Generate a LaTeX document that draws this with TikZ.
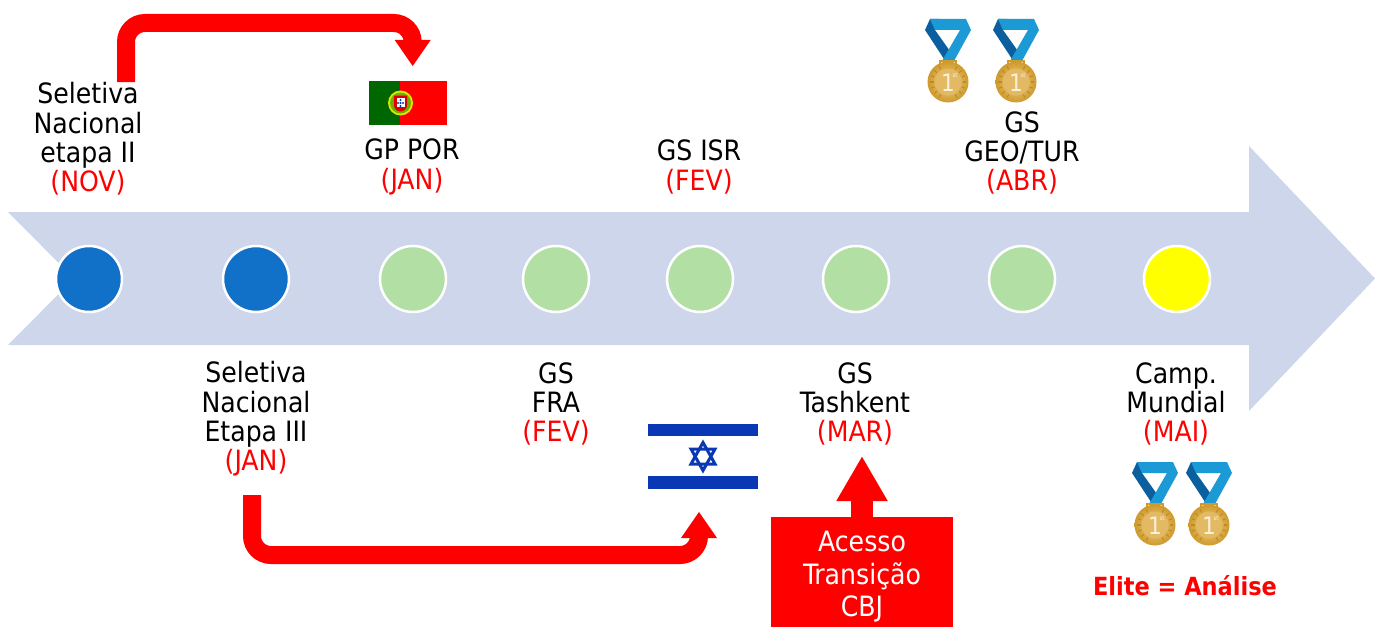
\documentclass[tikz,border=0pt]{standalone}
\usepackage{fontspec}
\setmainfont{DejaVu Sans Condensed}
\usetikzlibrary{arrows.meta,calc}
\definecolor{bandcol}{HTML}{CDD6EA}
\definecolor{bluedot}{HTML}{1170C8}
\definecolor{greendot}{HTML}{B2DFA4}
\definecolor{dotyellow}{RGB}{255,255,0}
\definecolor{ptgreen}{HTML}{006600}
\definecolor{ilblue}{HTML}{0A38B4}
\definecolor{ribbonlight}{HTML}{1C9AD6}
\definecolor{ribbondark}{HTML}{0B5F9E}
\definecolor{goldlight}{HTML}{F0D088}
\definecolor{golddark}{HTML}{CF9A2C}
\tikzset{
  x=1pt,y=-1pt,
  dot/.style={circle,draw=white,line width=2.5pt,minimum size=66pt,inner sep=0pt},
  lbl/.style={align=center,inner sep=0pt,text=black,font=\fontsize{28}{29.3}\selectfont},
  redline/.style={line width=18pt,draw=red,rounded corners=19pt},
  medal/.pic={
    \fill[ribbondark] (-23,11) -- (-18,0) -- (-9,0) -- (-13,11) -- (4,35) -- (-2,43) -- cycle;
    \fill[ribbonlight] (-18,0) -- (18,0) -- (23,11) -- (6,42) -- (-6,42) -- (12,11) -- (-13,11) -- cycle;
    \draw[golddark,line width=1.2pt] (-8,47) -- (-8,42) -- (8,42) -- (8,47);
    \shade[inner color=goldlight,outer color=golddark] (0,63) circle (20.5);
    \foreach \a in {120,140,...,240,300,320,...,420}
      \draw[golddark!90!black,line width=1.1pt] ($(0,63)+(\a:14.5)$) -- ($(0,63)+(\a:18)$);
    \fill[goldlight!60!golddark] (0,63) circle (13.5);
    \node[inner sep=0pt,text=white!70!goldlight,font=\fontsize{24}{24}\selectfont] at (0,64) {1};
    \node[inner sep=0pt,text=white!70!goldlight,font=\fontsize{6}{6}\selectfont] at (7,56) {st};
  },
}
\begin{document}
\begin{tikzpicture}
\useasboundingbox (0,0) rectangle (1375,626);
% main arrow
\fill[bandcol] (8,212) -- (1249,212) -- (1249,146) -- (1375,278.5) -- (1249,411) -- (1249,345) -- (8,345) -- (74,278.5) -- cycle;
% dots
\node[dot,fill=bluedot]  (d1) at (89,279) {};
\node[dot,fill=bluedot]  (d2) at (256,279) {};
\node[dot,fill=greendot] (d3) at (413,279) {};
\node[dot,fill=greendot] (d4) at (556,279) {};
\node[dot,fill=greendot] (d5) at (700,279) {};
\node[dot,fill=greendot] (d6) at (856,279) {};
\node[dot,fill=greendot] (d7) at (1022,279) {};
\node[dot,fill=dotyellow] (d8) at (1177,279) {};
% labels
\node[lbl] (t1) at (88,139) {Seletiva\\Nacional\\etapa II\\\textcolor{red}{(NOV)}};
\node[lbl] (t2) at (256,419) {Seletiva\\Nacional\\Etapa III\\\textcolor{red}{(JAN)}};
\node[lbl] (t3) at (412,167) {GP POR\\\textcolor{red}{(JAN)}};
\node[lbl] (t4) at (556,404) {GS\\FRA\\\textcolor{red}{(FEV)}};
\node[lbl] (t5) at (699,167) {GS ISR\\\textcolor{red}{(FEV)}};
\node[lbl] (t6) at (855,404) {GS\\Tashkent\\\textcolor{red}{(MAR)}};
\node[lbl] (t7) at (1022,153) {GS\\GEO/TUR\\\textcolor{red}{(ABR)}};
\node[lbl] (t8) at (1176,404) {Camp.\\Mundial\\\textcolor{red}{(MAI)}};
\node[inner sep=0pt,text=red,font=\bfseries\fontsize{25}{29}\selectfont] (elite) at (1185,586) {Elite = Análise};
% Portugal flag
\node[inner sep=0pt,minimum width=78pt,minimum height=44pt] (pt) at (408,103) {};
\fill[red] (369,81) rectangle (447,125);
\fill[ptgreen] (369,81) rectangle (400,125);
\fill[dotyellow!85!ptgreen] (400.5,103) circle (12.5);
\fill[ptgreen!55!dotyellow] (400.5,103) circle (10.5);
\fill[red!85!black] (394,95.5) -- (407,95.5) -- (407,105) arc[start angle=0,end angle=180,radius=6.5] -- cycle;
\fill[white] (396.5,98) rectangle (404.5,107);
\fill[ilblue] (400.5,100) circle (1.2) (400.5,103) circle (1.2) (400.5,106) circle (1.2) (398,103) circle (1.2) (403,103) circle (1.2);
% Israel flag
\node[inner sep=0pt,minimum width=110pt,minimum height=65pt] (il) at (703,456.5) {};
\fill[ilblue] (648,424) rectangle (758,436);
\fill[ilblue] (648,476) rectangle (758,489);
\draw[ilblue,line width=3pt] (703,442.5) -- (715,464) -- (691,464) -- cycle;
\draw[ilblue,line width=3pt] (703,470.5) -- (715,449) -- (691,449) -- cycle;
% medals
\pic at (948,19) {medal};
\pic at (1016,19) {medal};
\pic at (1155,462) {medal};
\pic at (1209,462) {medal};
% bent arrows
\coordinate (a1s) at (126,82);
\coordinate (a1b) at (412.7,43);
\coordinate (a1e) at (412.7,66);
\coordinate (a2s) at (252,495);
\coordinate (a2b) at (699,535);
\coordinate (a2e) at (699,512);
\draw[redline] (a1s) |- (412.7,23) -- (a1b);
\fill[red] ($(a1b)+(-18,-3)$) -- ($(a1b)+(18,-3)$) -- (a1e) -- cycle;
\draw[redline] (a2s) |- (699,555) -- (a2b);
\fill[red] ($(a2b)+(-18,3)$) -- ($(a2b)+(18,3)$) -- (a2e) -- cycle;
% access box
\node[fill=red,minimum width=182pt,minimum height=112pt,inner sep=0pt,anchor=north] (box) at (862,517) {};
\node[lbl,text=white,font=\fontsize{28}{32.5}\selectfont] (boxt) at (862,577) {Acesso\\Transição\\CBJ};
\coordinate (boxtip) at (862,456);
\draw[line width=22pt,draw=red,-{Triangle[length=45pt,width=48pt,fill=red]}] (box.north) -- (boxtip);
\end{tikzpicture}
\end{document}
